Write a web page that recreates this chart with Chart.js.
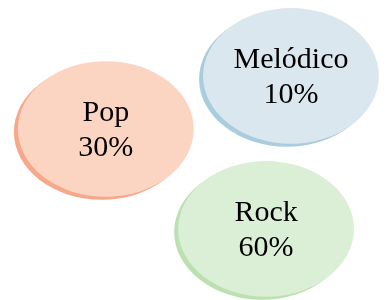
<!DOCTYPE html>
<html>
<head>
<meta charset="utf-8">
<script src="https://cdn.jsdelivr.net/npm/chart.js@4"></script>
<style>
  html, body { margin: 0; padding: 0; background: #fff; }
  canvas { display: block; }
</style>
</head>
<body>
<canvas id="myChart" width="389" height="300"></canvas>
<script>
// bubble diagram: genres and their share
const genres = ['Pop', 'Melódico', 'Rock']
const shares = [30, 10, 60]
// bubble centres on a 0-100 grid, and bubble size in the same units
const posX = [27.2, 74.8, 68.4]
const posY = [57, 74.7, 23.7]
const bubbleSize = [22.6, 22.6, 22.6]

const fills = ['#fcd4c2', '#dbe7ee', '#dbeed6']
const shadows = ['#f5a88b', '#a9cddd', '#bbe1b1']

const ctx = document.getElementById('myChart')

const ellipses = {
  id: 'ellipses',
  afterDatasetsDraw(chart) {
    const c = chart.ctx
    const xs = chart.scales.x
    const ys = chart.scales.y
    const meta = chart.getDatasetMeta(0)
    meta.data.forEach((pt, i) => {
      const d = chart.data.datasets[0].data[i]
      const rx = Math.abs(xs.getPixelForValue(d.x + d.s) - xs.getPixelForValue(d.x))
      const ry = Math.abs(ys.getPixelForValue(d.y + d.s) - ys.getPixelForValue(d.y))
      c.save()
      c.fillStyle = shadows[i]
      c.beginPath()
      c.ellipse(pt.x - 4, pt.y + 3, rx, ry, 0, 0, Math.PI * 2)
      c.fill()
      c.fillStyle = fills[i]
      c.beginPath()
      c.ellipse(pt.x, pt.y, rx, ry, 0, 0, Math.PI * 2)
      c.fill()
      c.fillStyle = '#000'
      c.font = '30px "Liberation Serif", serif'
      c.textAlign = 'center'
      c.textBaseline = 'alphabetic'
      c.fillText(genres[i], pt.x, pt.y - 8)
      c.fillText(shares[i] + '%', pt.x, pt.y + 27)
      c.restore()
    })
  }
}

new Chart(ctx, {
  type: 'bubble',
  data: {
    labels: genres,
    datasets: [{
      label: 'Share',
      data: genres.map((g, i) => ({ x: posX[i], y: posY[i], r: 0, s: bubbleSize[i] })),
      backgroundColor: 'rgba(0,0,0,0)',
      borderWidth: 0
    }]
  },
  options: {
    responsive: false,
    animation: false,
    layout: { padding: 0 },
    plugins: {
      legend: { display: false },
      tooltip: { enabled: false }
    },
    scales: {
      x: { type: 'linear', min: 0, max: 100, display: false },
      y: { type: 'linear', min: 0, max: 100, display: false }
    }
  },
  plugins: [ellipses]
});
</script>
</body>
</html>
